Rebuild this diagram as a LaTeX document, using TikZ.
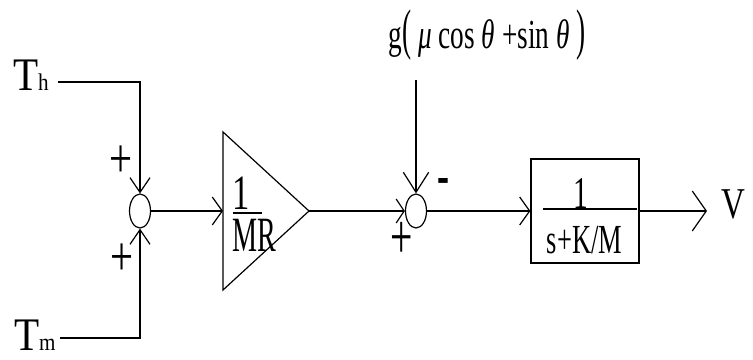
\documentclass[tikz,border=0pt]{standalone}
\usepackage{fontspec}
\setmainfont{Liberation Serif}
\usetikzlibrary{arrows.meta,shapes.geometric}
\newcommand{\hsq}[3]{\scalebox{#1}[#2]{#3}}
\newcommand{\fs}[1]{\fontsize{#1}{#1}\selectfont}
\tikzset{
  wire/.style={line width=0.9pt},
  sumpt/.style={draw,ellipse,line width=0.9pt,minimum width=15.75pt,minimum height=25.5pt,inner sep=0pt},
  blk/.style={draw,rectangle,line width=0.9pt,minimum width=81pt,minimum height=78pt,inner sep=0pt},
  lbl/.style={inner sep=0pt,outer sep=0pt},
  tipsumv/.tip={Straight Barb[length=11pt,width=15pt]},
  tipin/.tip={Straight Barb[length=7.5pt,width=21pt]},
  tipsumh/.tip={Straight Barb[length=6pt,width=18pt]},
  tiptop/.tip={Straight Barb[length=15pt,width=19pt]},
  tipout/.tip={Straight Barb[length=10.5pt,width=30pt]},
}
\begin{document}
\begin{tikzpicture}[x=0.75pt,y=-0.75pt]
\useasboundingbox (0,0) rectangle (753,360);
% summing points and block
\node[sumpt] (s1) at (140,211) {};
\node[sumpt] (s2) at (416,211) {};
\node[blk] (blk) at (585,211) {};
% triangle gain
\coordinate (trt) at (223,132);
\coordinate (trb) at (223,290);
\coordinate (tra) at (309,211);
\coordinate (trin) at (223,211);
\draw[wire] (trt) -- (tra) -- (trb) -- cycle;
% inputs
\node[lbl,anchor=base west] (th) at (13,90) {\hsq{0.88}{1}{\fs{35}T\fs{18}h}};
\node[lbl,anchor=base west] (tm) at (14,350) {\hsq{0.88}{1}{\fs{35}T\fs{18}m}};
\coordinate (ths) at (58,82);
\coordinate (thc) at (140,82);
\coordinate (tms) at (60,338);
\coordinate (tmc) at (140,338);
\draw[wire,-{tipsumv}] (ths) -- (thc) -- (s1.north);
\draw[wire,-{tipsumv}] (tms) -- (tmc) -- (s1.south);
\draw[wire,-{tipin}] (s1.east) -- (trin);
\draw[wire,-{tipsumh}] (tra) -- (s2.west);
% disturbance
\node[lbl,anchor=base] (g) at (487,49) {\hsq{0.66}{1}{\fs{31}g\hsq{1}{1.35}{(} \textit{μ} cos \textit{θ} +sin \textit{θ} \hsq{1}{1.35}{)}}};
\coordinate (gtop) at (416,80);
\draw[wire,-{tiptop}] (gtop) -- (s2.north);
\draw[wire,-{tipin}] (s2.east) -- (blk.west);
% output
\coordinate (vtip) at (707,211);
\draw[wire,-{tipout}] (blk.east) -- (vtip);
\node[lbl] (v) at (733.5,204.5) {\hsq{0.75}{1}{\fs{33}V}};
% signs
\node[lbl] (p1) at (121,162) {\hsq{0.73}{1}{\fs{42}+}};
\node[lbl] (p2) at (122,260) {\hsq{0.73}{1}{\fs{42}+}};
\node[lbl] (p3) at (402,240) {\hsq{0.62}{1}{\fs{48}+}};
\node[lbl] (m1) at (443,186) {\hsq{1}{1.6}{\fs{27}\bfseries -}};
% gain fraction
\node[lbl,anchor=north west] (fr1) at (232,177) {\vbox{\offinterlineskip
  \hbox{\hsq{0.7}{1}{\fs{37}1}}\vskip 7.5pt
  \hbox{\hsq{0.57}{1}{\fs{37}MR}}}};
\draw[wire] (233,213) -- (262,213);
% block fraction
\node[lbl] (n2) at (581,193.5) {\hsq{0.65}{1}{\fs{34}1}};
\draw[wire] (543,209) -- (637,209);
\node[lbl] (d2) at (584.5,240) {\hsq{0.64}{1}{\fs{31}s+K/M}};
\end{tikzpicture}
\end{document}
